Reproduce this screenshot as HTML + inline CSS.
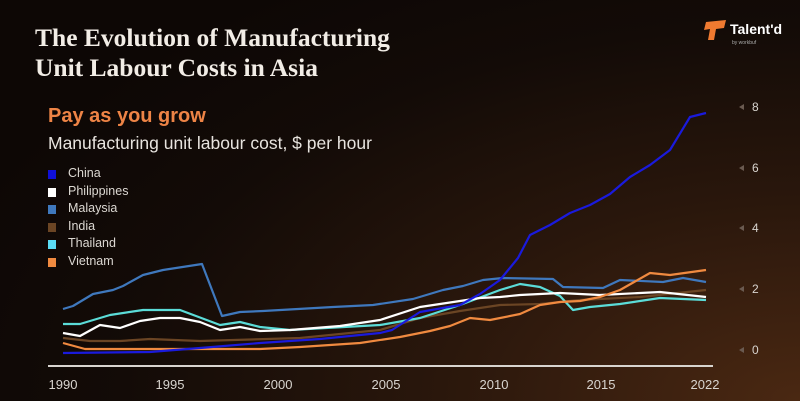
<!DOCTYPE html>
<html><head><meta charset="utf-8"><style>
html,body{margin:0;padding:0;}
body{width:800px;height:401px;overflow:hidden;position:relative;font-family:"Liberation Sans",sans-serif;
background:radial-gradient(ellipse 900px 500px at 800px 401px,#4a2812 0%,#2a170c 40%,#130b07 75%,#0d0705 100%);}
.t{position:absolute;left:35px;top:23px;color:#f2ede6;font-family:"Liberation Serif",serif;font-weight:bold;font-size:25.5px;line-height:30px;}
.p{position:absolute;left:48px;top:105px;color:#ee8446;font-weight:bold;font-size:20px;}
.s{position:absolute;left:48px;top:133px;color:#e8e4df;font-size:17.5px;}
.lg{position:absolute;left:48px;top:165px;color:#dcd8d2;font-size:12.5px;}
.lg div{height:17.6px;line-height:17.6px;position:relative;padding-left:20px;}
.lg span{position:absolute;left:0;top:5px;width:8px;height:9px;}
svg{position:absolute;left:0;top:0;}
</style></head><body>
<div class="t">The Evolution of Manufacturing<br>Unit Labour Costs in Asia</div>
<div class="p">Pay as you grow</div>
<div class="s">Manufacturing unit labour cost, $ per hour</div>
<div class="lg">
<div><span style="background:#1010d8"></span>China</div>
<div><span style="background:#ffffff"></span>Philippines</div>
<div><span style="background:#3f78bd"></span>Malaysia</div>
<div><span style="background:#6b4524"></span>India</div>
<div><span style="background:#5bdcf5"></span>Thailand</div>
<div><span style="background:#f08a40"></span>Vietnam</div>
</div>
<svg width="800" height="401" viewBox="0 0 800 401">
<g fill="none" stroke-width="2.2" stroke-linejoin="round">
<polyline stroke="#6b4524" points="63,338 90,341 120,341 150,339 200,341 300,338 380,330 420,318 460,311 500,305 540,304 580,300 640,297 706,290"/>
<polyline stroke="#3f78bd" points="63,309 73,306 93,294 113,290 123,286 143,275 163,270 202,264 222,316 240,312 263,311 333,307 373,305 413,299 443,290 463,286 483,280 503,278 553,279 563,287 603,288 620,280 663,282 683,278 706,282"/>
<polyline stroke="#5bdcd8" points="63,324 80,324 110,315 143,310 180,310 220,325 240,322 260,327 290,330 380,325 420,318 460,305 500,290 520,284 540,287 560,296 573,310 590,307 620,304 660,298 706,300"/>
<polyline stroke="#ffffff" points="63,333 80,336 100,325 120,328 140,321 160,318 180,318 200,322 220,330 240,327 260,331 290,330 340,326 380,320 420,307 440,304 480,298 500,297 520,295 560,293 600,295 660,292 706,297"/>
<polyline stroke="#f08a40" points="63,343 85,349 150,349 200,349 260,349 300,347 360,343 400,337 430,331 450,326 470,318 490,320 520,314 540,305 560,302 580,301 600,297 620,290 650,273 670,275 706,270"/>
<polyline stroke="#1a1adc" points="63,353 150,352 200,348 260,343 320,339 380,333 392,330 420,312 460,305 480,294 500,280 518,258 530,235 550,225 570,213 590,205 610,194 630,177 650,165 670,150 690,117 706,113"/>
</g>
<line x1="48" y1="366" x2="713" y2="366" stroke="#d8d4cf" stroke-width="2"/>
<g fill="#d8d4cf" font-size="13" font-family="Liberation Sans,sans-serif" text-anchor="middle">
<text x="63" y="389">1990</text><text x="170" y="389">1995</text><text x="278" y="389">2000</text><text x="386" y="389">2005</text><text x="494" y="389">2010</text><text x="601" y="389">2015</text><text x="705" y="389">2022</text>
</g>
<g fill="#d8d4cf" font-size="12" font-family="Liberation Sans,sans-serif">
<text x="752" y="354">0</text><text x="752" y="293">2</text><text x="752" y="232">4</text><text x="752" y="172">6</text><text x="752" y="111">8</text>
</g>
<g fill="#6a5a50">
<polygon points="744,347 744,353 739,350"/><polygon points="744,286 744,292 739,289"/><polygon points="744,225 744,231 739,228"/><polygon points="744,165 744,171 739,168"/><polygon points="744,104 744,110 739,107"/>
</g>
<polygon points="706,22 726,20 724,28 716,29 714,40 708,40 710,29 704,30" fill="#f07a30"/>
<text x="730" y="34" fill="#ffffff" font-size="14" font-weight="bold" font-family="Liberation Sans,sans-serif">Talent'd</text>
<text x="732" y="44" fill="#aaa" font-size="5" font-family="Liberation Sans,sans-serif">by workbuf</text>
</svg>
</body></html>
